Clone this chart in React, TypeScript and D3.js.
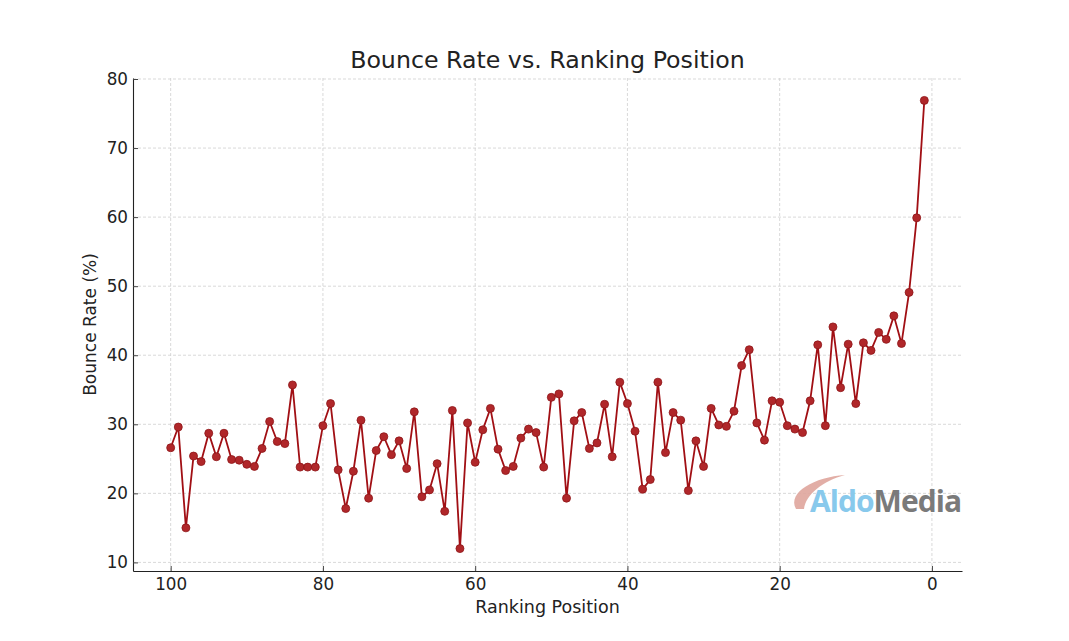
import React, { useRef, useEffect } from 'react';
import * as d3 from 'd3';

// Ranking positions 100 -> 1 and the bounce rate
const ranks: number[] = d3.range(100, 0, -1);
const bounceRates: number[] = [
  26.6, 29.6, 15.0, 25.4, 24.6, 28.7, 25.3, 28.7, 24.9, 24.8,
  24.2, 23.9, 26.5, 30.4, 27.5, 27.2, 35.7, 23.8, 23.8, 23.8,
  29.8, 33.0, 23.4, 17.8, 23.2, 30.6, 19.3, 26.2, 28.2, 25.6,
  27.6, 23.6, 31.8, 19.5, 20.5, 24.3, 17.4, 32.0, 12.0, 30.2,
  24.5, 29.2, 32.3, 26.4, 23.3, 23.9, 28.0, 29.3, 28.8, 23.8,
  33.9, 34.4, 19.3, 30.5, 31.7, 26.5, 27.3, 32.9, 25.3, 36.1,
  33.0, 29.0, 20.6, 22.0, 36.1, 25.9, 31.7, 30.6, 20.4, 27.6,
  23.9, 32.3, 29.9, 29.7, 31.9, 38.5, 40.8, 30.2, 27.7, 33.4,
  33.2, 29.8, 29.3, 28.8, 33.4, 41.5, 29.8, 44.1, 35.3, 41.6,
  33.0, 41.8, 40.7, 43.3, 42.3, 45.7, 41.7, 49.1, 59.9, 76.9,
];
const xTicks: number[] = [100, 80, 60, 40, 20, 0];
const yTicks: number[] = [10, 20, 30, 40, 50, 60, 70, 80];

const W = 1069;
const H = 641;

const App = () => {
  const svgRef = useRef<SVGSVGElement>(null);

  useEffect(() => {
    const svg = d3.select(svgRef.current);
    svg.selectAll('*').remove();

    const margin = { top: 78, right: 107, bottom: 70, left: 133 };
    const width = W - margin.left - margin.right;
    const height = H - margin.top - margin.bottom;
    const font = 'DejaVu Sans, sans-serif';

    svg.append('rect').attr('width', W).attr('height', H).attr('fill', 'white');

    const g = svg.append('g').attr('transform', `translate(${margin.left},${margin.top})`);

    const data = ranks.map((r, i) => ({ rank: r, rate: bounceRates[i] }));

    // matplotlib-ish 5% padding
    const xPad = (100 - 1) * 0.05;
    const yMin = d3.min(bounceRates)!;
    const yMax = d3.max(bounceRates)!;
    const yPad = (yMax - yMin) * 0.05;

    const xScale = d3.scaleLinear().domain([100 + xPad, 1 - xPad]).range([0, width]);
    const yScale = d3.scaleLinear().domain([yMin - yPad, yMax + yPad]).range([height, 0]);

    // grid
    g.append('g')
      .selectAll('line')
      .data(xTicks)
      .enter()
      .append('line')
      .attr('x1', d => xScale(d))
      .attr('x2', d => xScale(d))
      .attr('y1', 0)
      .attr('y2', height)
      .attr('stroke', '#cfcfcf')
      .attr('stroke-width', 0.8)
      .attr('stroke-dasharray', '3,2');

    g.append('g')
      .selectAll('line')
      .data(yTicks)
      .enter()
      .append('line')
      .attr('x1', 0)
      .attr('x2', width)
      .attr('y1', d => yScale(d))
      .attr('y2', d => yScale(d))
      .attr('stroke', '#cfcfcf')
      .attr('stroke-width', 0.8)
      .attr('stroke-dasharray', '3,2');

    // watermark
    const wm = g.append('g');
    wm.append('path')
      .attr('d', 'M 663 431 C 654 414, 682 399, 712 397 C 690 403, 673 416, 671 431 Z')
      .attr('fill', '#dfa59c')
      .attr('opacity', 0.9);
    const wmText = wm.append('text')
      .attr('x', 677)
      .attr('y', 434)
      .attr('textLength', 152)
      .style('font-family', 'Open Sans, DejaVu Sans, sans-serif')
      .style('font-size', '30px')
      .style('font-weight', '700');
    wmText.append('tspan').attr('fill', '#88c9ec').text('Aldo');
    wmText.append('tspan').attr('fill', '#7a7a7a').text('Media');

    // line
    const line = d3.line<{ rank: number; rate: number }>()
      .x(d => xScale(d.rank))
      .y(d => yScale(d.rate));

    g.append('path')
      .datum(data)
      .attr('d', line)
      .attr('fill', 'none')
      .attr('stroke', '#a10f14')
      .attr('stroke-width', 1.8);

    g.selectAll('.pt')
      .data(data)
      .enter()
      .append('circle')
      .attr('class', 'pt')
      .attr('cx', d => xScale(d.rank))
      .attr('cy', d => yScale(d.rate))
      .attr('r', 4)
      .attr('fill', '#b0272a')
      .attr('stroke', '#8e1518')
      .attr('stroke-width', 0.8);

    // axes, ticks point inward like the reference
    const xAxis = d3.axisBottom(xScale).tickValues(xTicks).tickSizeInner(-5).tickSizeOuter(0).tickPadding(7);
    const yAxis = d3.axisLeft(yScale).tickValues(yTicks).tickSizeInner(-5).tickSizeOuter(0).tickPadding(5);

    const xg = g.append('g').attr('transform', `translate(0,${height})`).call(xAxis);
    const yg = g.append('g').call(yAxis);

    [xg, yg].forEach(a => {
      a.select('.domain').attr('stroke', '#222').attr('stroke-width', 1.1);
      a.selectAll('.tick line').attr('stroke', '#444');
      a.selectAll('.tick text')
        .style('font-family', font)
        .style('font-size', '16.8px')
        .attr('fill', '#222');
    });

    // labels
    g.append('text')
      .attr('text-anchor', 'middle')
      .attr('x', width / 2)
      .attr('y', height + 42)
      .style('font-family', font)
      .style('font-size', '17.5px')
      .attr('fill', '#222')
      .text('Ranking Position');

    g.append('text')
      .attr('text-anchor', 'middle')
      .attr('transform', 'rotate(-90)')
      .attr('x', -height / 2)
      .attr('y', -37)
      .style('font-family', font)
      .style('font-size', '17px')
      .attr('fill', '#222')
      .text('Bounce Rate (%)');

    g.append('text')
      .attr('text-anchor', 'middle')
      .attr('x', width / 2)
      .attr('y', -10)
      .style('font-family', font)
      .style('font-size', '23.7px')
      .attr('fill', '#222')
      .text('Bounce Rate vs. Ranking Position');
  }, []);

  return (
    <svg
      ref={svgRef}
      width={W}
      height={H}
      style={{ position: 'absolute', left: 0, top: 0, display: 'block' }}
    />
  );
};

export default App;
